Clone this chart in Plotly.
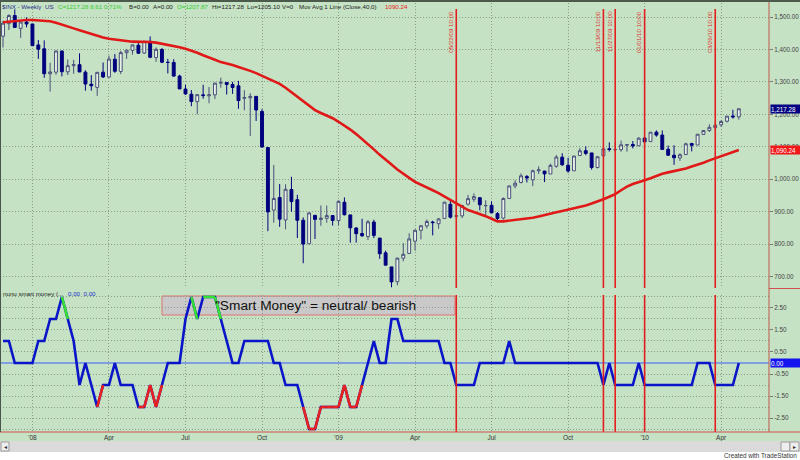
import plotly.graph_objects as go
import pandas as pd

# ---------------- data ----------------
weeks = pd.date_range("2007-11-30", periods=126, freq="W-FRI")

opens = [1440.7, 1479.6, 1504.7, 1465.0, 1484.5, 1478.5, 1414.0, 1402.0, 1325.0, 1330.0,
         1395.0, 1331.0, 1350.0, 1353.0, 1330.0, 1293.0, 1283.0, 1330.0, 1315.0, 1370.0,
         1332.0, 1390.0, 1397.0, 1413.0, 1389.0, 1425.0, 1375.0, 1400.0, 1360.0, 1360.0,
         1318.0, 1278.0, 1262.0, 1239.0, 1260.0, 1257.0, 1260.0, 1296.0, 1298.0, 1292.0,
         1287.8, 1249.5, 1250.9, 1255.4, 1209.0, 1097.6, 904.7, 943.5, 874.3, 968.3,
         936.8, 873.5, 801.0, 888.6, 876.0, 879.5, 887.9, 872.4, 929.0, 890.0,
         849.6, 832.5, 823.0, 868.0, 818.5, 773.0, 729.6, 684.0, 756.5, 771.0,
         809.0, 842.5, 856.0, 868.0, 862.8, 879.0, 922.9, 886.0, 887.0, 923.0,
         938.0, 943.0, 918.1, 919.5, 894.0, 880.0, 940.6, 979.0, 990.0, 1008.0,
         998.0, 1026.0, 1025.2, 1016.0, 1040.0, 1068.0, 1043.0, 1026.0, 1073.0, 1088.0,
         1081.0, 1036.0, 1072.0, 1094.0, 1091.0, 1091.0, 1105.0, 1107.0, 1103.0, 1127.0,
         1116.0, 1145.0, 1136.0, 1092.4, 1073.9, 1065.5, 1076.0, 1110.0, 1105.4, 1138.0,
         1150.0, 1159.0, 1167.7, 1178.7, 1194.9, 1192.1]
highs = [1488.9, 1508.5, 1523.6, 1485.4, 1498.9, 1479.0, 1429.0, 1428.0, 1359.0, 1396.0,
         1397.0, 1369.0, 1368.0, 1388.0, 1336.0, 1321.0, 1330.0, 1359.7, 1380.9, 1386.0,
         1395.9, 1399.0, 1415.0, 1422.7, 1426.0, 1440.2, 1406.0, 1404.0, 1371.0, 1370.0,
         1322.0, 1291.0, 1275.0, 1262.0, 1291.0, 1284.0, 1297.0, 1313.0, 1300.0, 1300.0,
         1303.0, 1274.4, 1265.0, 1255.5, 1215.8, 1098.0, 1044.3, 985.4, 984.4, 1007.5,
         952.0, 882.3, 896.3, 888.6, 918.9, 918.9, 887.9, 934.7, 943.9, 890.0,
         852.0, 877.9, 874.0, 875.0, 818.5, 780.0, 729.6, 758.3, 803.0, 833.0,
         845.6, 856.9, 875.6, 871.8, 880.5, 930.2, 933.0, 930.2, 920.0, 951.7,
         956.2, 943.4, 935.0, 931.9, 898.7, 944.0, 979.8, 996.7, 1018.0, 1013.0,
         1029.6, 1039.5, 1025.2, 1048.0, 1074.8, 1080.0, 1066.0, 1071.5, 1096.6, 1101.4,
         1081.0, 1071.0, 1105.4, 1113.7, 1112.4, 1119.1, 1107.0, 1117.7, 1129.6, 1130.4,
         1145.4, 1150.4, 1150.5, 1103.7, 1104.7, 1080.0, 1112.4, 1112.3, 1139.0, 1150.2,
         1169.2, 1174.9, 1181.4, 1194.7, 1213.9, 1217.3]
lows = [1406.1, 1460.1, 1467.0, 1435.7, 1468.3, 1411.2, 1370.9, 1312.6, 1270.0, 1322.0,
        1317.0, 1321.0, 1325.0, 1330.0, 1272.7, 1273.0, 1257.0, 1312.0, 1312.0, 1328.0,
        1324.0, 1371.0, 1384.0, 1386.0, 1386.0, 1373.0, 1362.0, 1358.0, 1326.0, 1316.0,
        1278.0, 1260.0, 1225.0, 1200.4, 1248.0, 1234.0, 1247.0, 1282.0, 1261.0, 1263.0,
        1217.2, 1212.5, 1133.5, 1179.6, 1097.6, 839.8, 865.8, 852.9, 845.3, 899.7,
        818.7, 741.0, 799.6, 815.7, 856.5, 865.8, 857.0, 857.3, 888.3, 804.3,
        804.5, 821.7, 812.9, 818.4, 754.3, 734.5, 666.8, 672.9, 747.0, 771.0,
        779.8, 814.5, 847.8, 826.8, 847.1, 879.0, 878.9, 878.9, 880.0, 919.0,
        930.0, 903.8, 888.9, 896.0, 869.3, 875.3, 940.6, 972.0, 987.0, 990.0,
        978.5, 1016.0, 991.0, 1016.0, 1035.0, 1041.0, 1019.9, 1026.0, 1072.0, 1074.0,
        1029.4, 1033.0, 1072.0, 1085.0, 1083.7, 1085.0, 1085.0, 1095.0, 1102.0, 1114.8,
        1116.0, 1131.0, 1090.2, 1071.6, 1044.5, 1056.5, 1075.6, 1086.0, 1105.4, 1138.0,
        1145.5, 1151.0, 1161.2, 1175.0, 1186.7, 1183.7]
closes = [1481.1, 1504.7, 1467.9, 1484.5, 1478.5, 1411.6, 1401.0, 1325.2, 1330.6, 1395.4,
          1331.3, 1350.0, 1353.1, 1330.6, 1293.4, 1288.1, 1329.5, 1315.2, 1370.4, 1332.8,
          1390.3, 1397.8, 1413.9, 1388.3, 1425.4, 1375.9, 1400.4, 1360.7, 1360.0, 1317.9,
          1278.4, 1262.9, 1239.5, 1260.7, 1257.8, 1260.3, 1296.3, 1298.2, 1292.2, 1282.8,
          1242.3, 1251.7, 1255.1, 1213.3, 1099.2, 899.2, 940.6, 876.8, 968.8, 931.0,
          873.3, 800.0, 896.2, 876.1, 879.7, 887.9, 872.8, 931.8, 890.4, 850.1,
          832.0, 825.9, 868.6, 826.8, 770.1, 735.1, 683.4, 756.6, 768.5, 815.9,
          842.5, 856.6, 869.6, 866.2, 877.5, 929.2, 882.9, 887.0, 919.1, 940.1,
          946.2, 921.2, 918.9, 896.4, 879.1, 940.4, 979.3, 987.5, 1010.5, 1004.1,
          1026.1, 1028.9, 1016.4, 1042.7, 1068.3, 1044.4, 1025.2, 1071.5, 1087.7, 1079.6,
          1036.2, 1069.3, 1093.5, 1091.4, 1091.5, 1106.0, 1106.4, 1102.5, 1126.5, 1115.1,
          1145.0, 1136.0, 1091.8, 1073.9, 1066.2, 1075.5, 1109.2, 1104.5, 1138.7, 1150.0,
          1159.9, 1166.6, 1178.1, 1194.4, 1192.1, 1217.28]

# 40-week moving average
mov_avg = [1484, 1486, 1488, 1490, 1491, 1491, 1490, 1489, 1487, 1482,
           1477, 1471, 1465, 1459, 1453, 1447, 1441, 1437, 1433, 1430,
           1428, 1426, 1424, 1424, 1425, 1423, 1421, 1418, 1415, 1412,
           1407, 1402, 1397, 1390, 1382, 1376, 1368, 1361, 1357, 1352,
           1346, 1341, 1334, 1327, 1319, 1309, 1302, 1294, 1282, 1268,
           1255, 1241, 1227, 1213, 1204, 1197, 1188, 1177, 1166, 1153,
           1139, 1124, 1108, 1092, 1075, 1061, 1045, 1030, 1016, 1004,
           992, 984, 976, 966, 957, 947, 937, 926, 915, 905,
           899, 893, 886, 878, 870, 870, 872, 874, 876, 878,
           881, 885, 890, 894, 898, 902, 906, 910, 913, 919,
           925, 931, 938, 946, 954, 966, 977, 985, 992, 997,
           1003, 1010, 1017, 1021, 1025, 1028, 1033, 1039, 1044, 1051,
           1058, 1064, 1071, 1077, 1084, 1090.24]

# "nunu smart money" indicator
smart_money = [1, 1, 0, 0, 0, 0, 1, 1, 2, 2,
               3, 2, 1, -1, 0, -1, -2, -1, -1, 0,
               -1, -1, -1, -2, -2, -1, -2, -1, 0, 0,
               0, 2, 3, 2, 3, 3, 3, 2, 1, 0,
               0, 1, 1, 1, 1, 1, 0, 0, -1, -1,
               -1, -2, -3, -3, -2, -2, -2, -2, -1, -2,
               -2, -1, 0, 1, 0, 0, 2, 2, 1, 1,
               1, 1, 1, 1, 1, 0, 0, -1, -1, -1,
               -1, 0, 0, 0, 0, 0, 1, 0, 0, 0,
               0, 0, 0, 0, 0, 0, 0, 0, 0, 0,
               0, 0, -1, 0, -1, -1, -1, -1, 0, -1,
               -1, -1, -1, -1, -1, -1, -1, -1, 0, 0,
               0, -1, -1, -1, -1, 0]
green_segments = [11, 33, 35, 36, 37]          # segment ending at this week is green
red_segments = [17, 24, 25, 26, 27, 52, 53, 54, 55, 56, 57, 58, 59, 60, 61]

marker_dates = ["2009-05-22", "2009-11-13", "2009-11-27", "2010-01-01", "2010-03-26"]
marker_labels = ["05/22/09 10:00", "11/13/09 10:00", "11/27/09 10:00", "01/01/10 10:00", "03/26/10 10:00"]

tick_dates = ["2008-01-04", "2008-04-04", "2008-07-04", "2008-10-03", "2009-01-02",
              "2009-04-03", "2009-07-03", "2009-10-02", "2010-01-01", "2010-04-02"]
tick_text = ["'08", "Apr", "Jul", "Oct", "'09", "Apr", "Jul", "Oct", "'10", "Apr"]

price_ticks = [700, 800, 900, 1000, 1100, 1200, 1300, 1400, 1500]
price_ticktext = ["700.00", "800.00", "900.00", "1,000.00", "1,100.00", "1,200.00",
                  "1,300.00", "1,400.00", "1,500.00"]
ind_ticks = [-2.5, -1.5, -0.5, 0.5, 1.5, 2.5]
ind_ticktext = ["-2.50", "-1.50", "-0.50", "0.50", "1.50", "2.50"]

# ---------------- styling ----------------
W, H = 800, 460
BG = "#C6E2C4"
NAVY = "#00007E"
GRID = "#8A9C88"
GRIDDASH = "1px,2px"
FONT = "Liberation Sans, Arial, sans-serif"

def py(px):  # pixel from top -> paper y
    return 1 - px / H

def pxx(px):
    return px / W

fig = go.Figure()

fig.add_trace(go.Candlestick(
    x=weeks, open=opens, high=highs, low=lows, close=closes,
    increasing=dict(line=dict(color="#4A4F7A", width=1), fillcolor="#E8F2E6"),
    decreasing=dict(line=dict(color=NAVY, width=1), fillcolor=NAVY),
    whiskerwidth=0, xaxis="x", yaxis="y", showlegend=False, hoverinfo="skip"))

fig.add_trace(go.Scatter(x=weeks, y=mov_avg, mode="lines",
                         line=dict(color="#E01818", width=2.6),
                         xaxis="x", yaxis="y", showlegend=False, hoverinfo="skip"))

# zero line of indicator
fig.add_trace(go.Scatter(x=[weeks[0] - pd.Timedelta(days=10), weeks[-1] + pd.Timedelta(days=60)],
                         y=[0, 0], mode="lines", line=dict(color="#3A5CFF", width=1),
                         xaxis="x2", yaxis="y2", showlegend=False, hoverinfo="skip"))

fig.add_trace(go.Scatter(x=weeks, y=smart_money, mode="lines",
                         line=dict(color="#0A14C8", width=2.6),
                         xaxis="x2", yaxis="y2", showlegend=False, hoverinfo="skip"))

def seg_trace(idx, color):
    xs, ys = [], []
    for i in idx:
        xs += [weeks[i - 1], weeks[i], None]
        ys += [smart_money[i - 1], smart_money[i], None]
    return go.Scatter(x=xs, y=ys, mode="lines", line=dict(color=color, width=2.6),
                      xaxis="x2", yaxis="y2", showlegend=False, hoverinfo="skip",
                      connectgaps=False)

fig.add_trace(seg_trace(green_segments, "#33E033"))
fig.add_trace(seg_trace(red_segments, "#E82020"))

xr = ["2007-11-26 10:00", "2010-05-28 22:00"]
x_dom = [0.0, 769 / W]

axis_common = dict(showline=False, zeroline=False, showgrid=True, gridcolor=GRID,
                   griddash=GRIDDASH, gridwidth=1)

fig.update_layout(
    width=W, height=H, margin=dict(l=0, r=0, t=0, b=0),
    paper_bgcolor=BG, plot_bgcolor=BG,
    font=dict(family=FONT, size=7, color="#333333"),
    showlegend=False,
    xaxis=dict(domain=x_dom, anchor="y", type="date", range=xr,
               tickvals=tick_dates, ticktext=tick_text, showticklabels=False,
               rangeslider=dict(visible=False), **axis_common),
    xaxis2=dict(domain=x_dom, anchor="y2", type="date", range=xr, matches="x",
                tickvals=tick_dates, ticktext=tick_text, showticklabels=True,
                tickfont=dict(size=6.5, color="#333333"), ticks="", **axis_common),
    yaxis=dict(domain=[py(288), py(3)], anchor="x", side="right",
               range=[664.6, 1543.2], tickvals=price_ticks, ticktext=price_ticktext,
               ticks="outside", ticklen=3, tickcolor="#777777",
               tickfont=dict(size=6.3, color="#444444"), **axis_common),
    yaxis2=dict(domain=[py(432), py(295)], anchor="x2", side="right",
                range=[-3.136, 3.09], tickvals=ind_ticks, ticktext=ind_ticktext,
                ticks="outside", ticklen=3, tickcolor="#777777",
                tickfont=dict(size=6.3, color="#444444"),
                minor=dict(tickvals=[-3, -2, -1, 1, 2, 3], showgrid=True,
                           gridcolor=GRID, griddash=GRIDDASH, gridwidth=1),
                **axis_common),
)

shapes = []
# smart money box
shapes.append(dict(type="rect", xref="paper", yref="paper",
                   x0=pxx(162), x1=pxx(455), y0=py(315), y1=py(296),
                   fillcolor="#C9C9C9", line=dict(color="#E07070", width=1), layer="between"))
# vertical marker lines
for d in marker_dates:
    shapes.append(dict(type="line", xref="x", yref="paper", x0=d, x1=d,
                       y0=py(288), y1=py(9), line=dict(color="#E41E1E", width=1.6)))
    shapes.append(dict(type="line", xref="x", yref="paper", x0=d, x1=d,
                       y0=py(432), y1=py(295), line=dict(color="#E41E1E", width=1.6)))
# frame lines
shapes.append(dict(type="line", xref="paper", yref="paper", x0=pxx(769), x1=pxx(769),
                   y0=py(432), y1=py(2), line=dict(color="#C0584A", width=1)))
shapes.append(dict(type="line", xref="paper", yref="paper", x0=pxx(769), x1=1,
                   y0=py(288.5), y1=py(288.5), line=dict(color="#D05050", width=1)))
shapes.append(dict(type="line", xref="paper", yref="paper", x0=0, x1=1,
                   y0=py(432), y1=py(432), line=dict(color="#D05050", width=1)))
shapes.append(dict(type="line", xref="paper", yref="paper", x0=pxx(0.5), x1=pxx(0.5),
                   y0=py(432), y1=py(0), line=dict(color="#4A564A", width=1)))
shapes.append(dict(type="rect", xref="paper", yref="paper", x0=0, x1=1,
                   y0=py(2), y1=1, fillcolor="#4C5A4C", line=dict(width=0)))
# bottom scrollbar + footer
shapes.append(dict(type="rect", xref="paper", yref="paper", x0=0, x1=1,
                   y0=py(452), y1=py(441), fillcolor="#DADADA", line=dict(width=0)))
shapes.append(dict(type="rect", xref="paper", yref="paper", x0=0, x1=1,
                   y0=0, y1=py(452), fillcolor="#FFFFFF", line=dict(width=0)))
for (a, b) in [(1, 9), (781, 790), (790, 799)]:
    shapes.append(dict(type="rect", xref="paper", yref="paper", x0=pxx(a), x1=pxx(b),
                       y0=py(451), y1=py(442), fillcolor="#EEEEEE",
                       line=dict(color="#9A9A9A", width=1)))
fig.update_layout(shapes=shapes)

ann = []
def txt(x, y, s, color="#222222", size=7, xanchor="left", **kw):
    ann.append(dict(xref="paper", yref="paper", x=pxx(x), y=py(y), text=s,
                    showarrow=False, xanchor=xanchor, yanchor="middle", borderpad=0,
                    font=dict(family=FONT, size=size, color=color), **kw))

# header line
HS = 6.2
txt(1, 6, "$INX - Weekly", "#1E2A8A", HS)
txt(44, 6, "US", "#1E2A8A", HS)
txt(57, 6, "C=1217.28 8.61 0.71%", "#2ECC2E", HS)
txt(128, 6, "B=0.00", "#222222", HS)
txt(152, 6, "A=0.00", "#222222", HS)
txt(176, 6, "O=1207.87", "#2ECC2E", HS)
txt(211, 6, "Hi=1217.28", "#222222", HS)
txt(246, 6, "Lo=1205.10", "#222222", HS)
txt(281, 6, "V=0", "#222222", HS)
txt(298, 6, "Mov Avg 1 Line (Close,40,0)", "#222222", HS)
txt(384, 6, "1090.24", "#E82020", HS)

# indicator header
txt(2, 293, "nunu smart money (...", "#222222", 6.2)
txt(67, 293, "0.00  0.00", "#2030D0", 6.2)

# smart money text
txt(214, 305.5, "\"Smart Money\" = neutral/ bearish", "#111111", 13.7)

# footer
txt(798, 455.5, "Created with TradeStation", "#333333", 6.3, xanchor="right")
txt(5, 446.5, "◂", "#333333", 6, xanchor="center")
txt(794.5, 446.5, "▸", "#333333", 6, xanchor="center")

# marker labels
for d, lab in zip(marker_dates, marker_labels):
    ann.append(dict(xref="x", yref="paper", x=d, y=py(10), text=lab, textangle=-90,
                    showarrow=False, xanchor="right", yanchor="top", xshift=-1,
                    borderpad=0, font=dict(family=FONT, size=6.2, color="#E03030")))

# last-value boxes
for yref, yv, lab, col in [("y", closes[-1], "1,217.28", "#000080"),
                           ("y", mov_avg[-1], "1,090.24", "#F01818"),
                           ("y2", smart_money[-1], "0.00", "#1414EE")]:
    ann.append(dict(xref="paper", yref=yref, x=pxx(770), y=yv, text=lab,
                    showarrow=False, xanchor="left", yanchor="middle", bgcolor=col,
                    width=29, height=8, align="left", borderpad=0,
                    font=dict(family=FONT, size=6.3, color="#FFFFFF")))

fig.update_layout(annotations=ann)

fig.write_html("out.html", config={"displayModeBar": False},
               post_script="document.body.style.margin='0px';document.body.style.overflow='hidden';")
